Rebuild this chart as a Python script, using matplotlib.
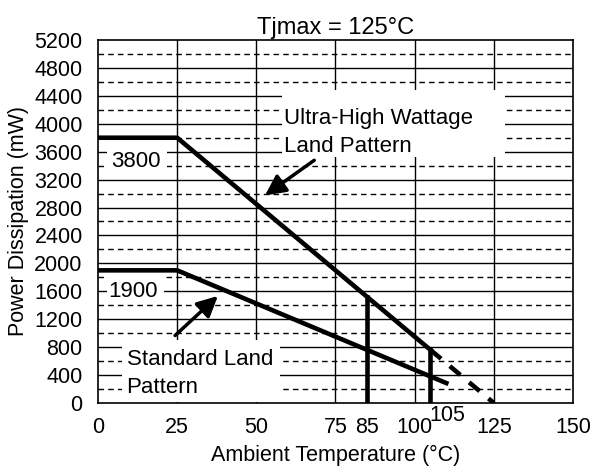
import matplotlib
matplotlib.use('Agg')
import matplotlib.pyplot as plt
from matplotlib.patches import Rectangle
from matplotlib.transforms import blended_transform_factory

plt.rcParams['font.family'] = ['Liberation Sans', 'DejaVu Sans']
plt.rcParams['font.size'] = 15.5

# derating curves (ambient temp in C, power in mW)
uhw_t = [0, 25, 105]
uhw_p = [3800, 3800, 760]
uhw_ext_t = [105, 125]
uhw_ext_p = [760, 0]
std_t = [0, 25, 110]
std_p = [1900, 1900, 285]
drop85_t = [85, 85]
drop85_p = [1520, 0]
drop105_t = [105, 105]
drop105_p = [760, 0]

xticks = [0, 25, 50, 75, 85, 100, 125, 150]
yticks = list(range(0, 5201, 400))
ydash = list(range(200, 5200, 400))
xgrid = [25, 50, 75, 100, 125]

fig = plt.figure(figsize=(5.94, 4.70), dpi=100)
ax = fig.add_axes([0.165, 0.1426, 0.7996, 0.7723])
ax.set_xlim(0, 150)
ax.set_ylim(0, 5200)

for y in yticks[1:-1]:
    ax.axhline(y, color='black', lw=1.0, zorder=1)
for y in ydash:
    ax.axhline(y, color='black', lw=1.0, ls=(0, (4, 3)), zorder=1)
for x in xgrid:
    ax.axvline(x, color='black', lw=1.0, zorder=1)

# white label boxes
ax.add_patch(Rectangle((58, 3530), 70.5, 960, facecolor='white', edgecolor='none', zorder=2))
ax.add_patch(Rectangle((7.6, 20), 50, 880, facecolor='white', edgecolor='none', zorder=2))
ax.add_patch(Rectangle((2.8, 3250), 19, 450, facecolor='white', edgecolor='none', zorder=2))
ax.add_patch(Rectangle((2.8, 1450), 18, 400, facecolor='white', edgecolor='none', zorder=2))

lw = 3.3
ax.plot(uhw_t, uhw_p, color='black', lw=lw, zorder=3, solid_joinstyle='miter')
ax.plot(std_t, std_p, color='black', lw=lw, zorder=3, solid_joinstyle='miter')
ax.plot(drop85_t, drop85_p, color='black', lw=lw, zorder=3)
ax.plot(drop105_t, drop105_p, color='black', lw=lw, zorder=3)
ax.plot(uhw_ext_t, uhw_ext_p, color='black', lw=lw, ls=(0, (3, 2.5)), zorder=3)

ax.text(58.7, 4000, 'Ultra-High Wattage', va='baseline', ha='left', zorder=4, fontsize=16)
ax.text(58.7, 3600, 'Land Pattern', va='baseline', ha='left', zorder=4, fontsize=16)
ax.text(9.0, 545, 'Standard Land', va='baseline', ha='left', zorder=4, fontsize=16)
ax.text(9.0, 143, 'Pattern', va='baseline', ha='left', zorder=4, fontsize=16)
ax.text(12.0, 3383, '3800', va='baseline', ha='center', zorder=4, fontsize=16)
ax.text(11.2, 1520, '1900', va='baseline', ha='center', zorder=4, fontsize=16)

arrow = dict(arrowstyle='-|>,head_length=0.8,head_width=0.4', color='black', lw=2.5)
ax.annotate('', xy=(52, 2950), xytext=(69, 3500), arrowprops=arrow, zorder=5)
ax.annotate('', xy=(38.5, 1560), xytext=(23.7, 940), arrowprops=arrow, zorder=5)

ax.set_xticks(xticks)
ax.set_yticks(yticks)
ax.tick_params(length=0, labelsize=15.5)
ax.tick_params(axis='x', pad=10)
ax.tick_params(axis='y', pad=11)
trans = blended_transform_factory(ax.transData, ax.transAxes)
ax.text(110.2, -0.005, '105', transform=trans, ha='center', va='top', fontsize=15.5)

for s in ax.spines.values():
    s.set_linewidth(1.2)

ax.set_title('Tjmax = 125°C', fontsize=17, pad=4)
ax.set_xlabel('Ambient Temperature (°C)', fontsize=15.5, labelpad=5)
ax.set_ylabel('Power Dissipation (mW)', fontsize=15.5, labelpad=4)

fig.savefig('out.png', dpi=100)
